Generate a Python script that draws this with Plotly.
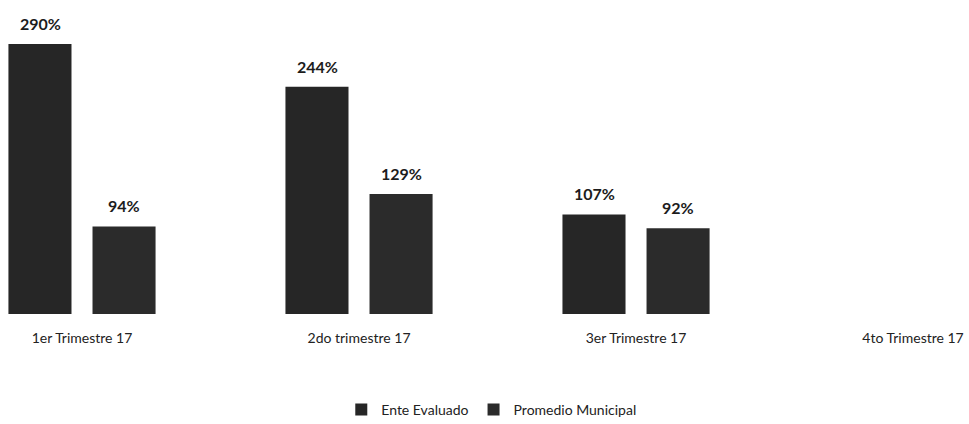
import plotly.graph_objects as go

categories = ["1er Trimestre 17", "2do trimestre 17", "3er Trimestre 17", "4to Trimestre 17"]
ente_evaluado = [290, 244, 107, None]
promedio_municipal = [94, 129, 92, None]
series = [("Ente Evaluado", ente_evaluado, "#262626", -42),
          ("Promedio Municipal", promedio_municipal, "#2b2b2b", 42)]

font_family = "Lato, Open Sans, sans-serif"

fig = go.Figure()
for name, vals, color, shift in series:
    fig.add_trace(go.Bar(
        name=name, x=categories, y=vals,
        marker=dict(color=color, line=dict(width=0)),
    ))
    for cat, v in zip(categories, vals):
        if v is None:
            continue
        fig.add_annotation(
            x=cat, y=v, text=f"<b>{v}%</b>", showarrow=False,
            xshift=shift, yshift=9, yanchor="bottom",
            font=dict(size=16, color="#1c1c1c", family=font_family),
        )

fig.update_layout(
    width=969, height=424,
    margin=dict(l=0, r=0, t=0, b=0, autoexpand=False),
    paper_bgcolor="white", plot_bgcolor="white",
    barmode="group", bargap=0.393, bargroupgap=0.25,
    font=dict(family=font_family, color="#222222", size=14),
    showlegend=True,
    legend=dict(orientation="h", x=0.507, xanchor="center", y=14 / 424, yanchor="middle",
                font=dict(size=14), itemwidth=30, traceorder="normal"),
    xaxis=dict(range=[-0.296, 3.202], showgrid=False, zeroline=False, showline=False,
               ticks="", tickfont=dict(size=14), ticklabelstandoff=14, automargin=False,
               anchor="y"),
    yaxis=dict(range=[0, 337.3], domain=[110 / 424, 1], visible=False,
               showgrid=False, zeroline=False),
)

fig.write_html("out.html")
